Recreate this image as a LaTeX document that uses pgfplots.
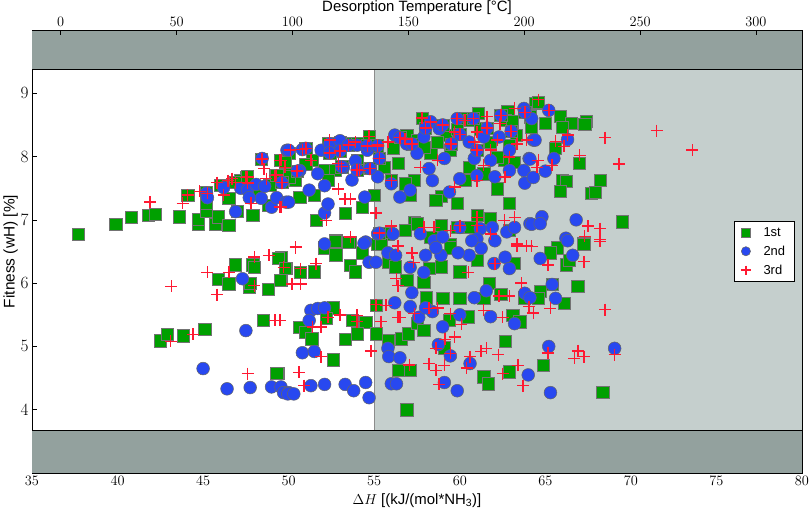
\documentclass[border=0pt]{standalone}
\usepackage{fontspec}
\setmainfont{Liberation Sans}
\usepackage{pgfplots}
\pgfplotsset{compat=1.18}
\definecolor{band}{RGB}{147,161,158}
\definecolor{zone}{RGB}{197,207,205}
\definecolor{sqgreen}{RGB}{0,160,0}
\definecolor{cblue}{RGB}{40,72,240}
\definecolor{xred}{RGB}{255,25,50}
\begin{document}
\begin{tikzpicture}
\useasboundingbox (-32bp,-35bp) rectangle (778bp,473bp);
\begin{axis}[
  at={(0,0)}, anchor=south west,
  scale only axis, width=770bp, height=443bp,
  xmin=35, xmax=80, ymin=3, ymax=10,
  xtick={35,40,...,80}, ytick={4,5,6,7,8,9},
  xtick pos=bottom, ytick pos=both,
  tick align=inside,
  major tick length=5bp,
  every tick/.style={black, line width=0.6bp},
  axis line style={line width=0.8bp},
  xticklabel style={font=\fontsize{14}{16}\selectfont},
  yticklabel style={font=\fontsize{17.5}{20}\selectfont},
  xlabel={$\Delta H$ [(kJ/(mol*NH\textsubscript{3})]},
  ylabel={Fitness (wH) [\%]},
  xlabel style={font=\fontsize{15}{17}\selectfont, yshift=-1bp},
  ylabel style={font=\fontsize{15.5}{18}\selectfont, yshift=-4bp},
  legend style={at={(0.99,0.5)}, anchor=east, draw=black, fill=white,
    font=\fontsize{13}{15}\selectfont, row sep=4bp, inner xsep=7bp, inner ysep=4bp,
    /tikz/every odd column/.append style={column sep=11bp}},
  legend image post style={mark size=4.6bp},
  legend cell align=left,
]
\fill[band] (axis cs:35,9.38) rectangle (axis cs:80,10);
\fill[band] (axis cs:35,3) rectangle (axis cs:80,3.68);
\fill[zone] (axis cs:55,3.68) rectangle (axis cs:80,9.38);
\draw[black!45, line width=0.6bp] (axis cs:55,3.68) -- (axis cs:55,9.38);
\draw[black, line width=0.9bp] (axis cs:35,9.38) -- (axis cs:80,9.38);
\draw[black, line width=0.9bp] (axis cs:35,3.68) -- (axis cs:80,3.68);

\addplot[only marks, mark=square*, mark size=6.1bp, color=sqgreen,
  mark options={fill=sqgreen, draw=black!55, line width=0.5bp}] table {
x y
37.7 6.77
39.9 6.93
40.8 7.04
41.8 7.07
42.2 7.09
43.6 7.05
44.7 6.94
44.7 7.01
45.2 7.13
45.2 7.26
45.7 6.93
45.9 7.05
46.5 6.91
47.0 7.13
47.9 7.07
48.8 7.23
44.1 7.39
45.2 7.43
46.5 7.34
47.5 7.67
48.4 7.96
49.2 7.70
49.5 7.94
49.8 7.88
50.0 8.05
46.0 7.55
47.2 7.62
48.2 7.45
48.9 7.55
52.29 8.21
52.6 8.21
53.0 8.23
53.7 8.21
54.0 8.21
54.7 8.32
55.2 8.18
56.1 8.13
56.9 8.34
57.8 8.61
59.2 8.34
59.85 8.43
60.3 8.60
61.1 8.68
60.55 8.57
62.8 8.72
62.65 8.58
63.05 8.55
63.3 8.34
62.9 8.18
62.6 7.94
63.2 7.91
62.2 7.49
62.9 7.26
59.85 7.26
58.9 7.37
58.6 7.31
60.3 7.62
60.55 7.83
61.4 7.73
58.3 8.05
59.45 8.10
57.35 7.62
56.0 7.62
55.0 7.39
54.3 7.20
53.3 7.10
51.6 6.99
51.4 7.94
51.0 7.88
52.1 7.78
52.7 7.78
50.65 7.36
50.4 7.62
49.8 7.91
50.0 7.68
52.3 7.62
51.5 7.39
54.0 7.94
55.6 7.83
56.4 7.89
57.5 8.26
57.9 8.15
58.7 8.23
61.2 8.44
64.1 8.63
64.4 8.84
61.8 8.23
62.2 7.99
57.1 7.39
56.8 7.57
64.57 8.86
65.85 8.64
66.5 8.53
67.4 8.56
67.3 8.51
65.0 8.53
66.0 8.46
64.2 8.46
65.6 8.13
67.0 7.89
66.0 7.62
66.2 7.61
68.2 7.62
65.85 7.45
67.7 7.42
67.9 7.43
69.5 6.97
67.25 6.63
65.7 6.56
57.35 6.96
57.5 6.94
58.9 6.91
59.85 6.88
61.0 7.07
61.8 7.02
56.8 6.83
55.8 6.78
55.2 6.62
53.6 6.65
52.75 6.67
58.3 6.73
59.45 6.62
62.9 6.83
60.6 6.88
49.55 6.41
49.85 6.23
50.7 6.17
51.5 6.18
49.55 6.04
52.1 6.56
52.75 6.45
52.7 6.66
53.5 6.64
53.6 6.28
53.9 6.18
54.3 6.48
55.4 6.61
55.8 6.33
56.25 6.26
56.9 6.04
57.9 6.01
58.2 6.23
58.9 6.26
59.45 6.56
60.0 6.18
61.0 6.36
61.7 6.00
63.2 6.31
52.6 5.61
52.2 5.44
53.7 5.41
54.5 5.38
54.0 5.20
53.3 5.11
55.1 5.65
55.1 5.20
50.6 5.30
50.95 5.22
51.35 5.12
55.8 5.09
56.6 5.12
57.0 5.20
57.5 5.36
57.9 5.25
58.05 5.77
59.0 5.76
60.0 5.76
60.5 5.47
59.4 5.41
61.4 5.76
63.1 5.49
63.5 5.39
62.4 5.82
62.65 5.08
59.1 4.98
52.6 4.79
49.4 4.57
56.4 4.62
57.1 4.62
61.4 4.52
61.65 4.41
62.9 4.60
56.9 4.00
63.75 5.77
46.9 6.29
45.9 6.06
46.5 5.99
47.7 5.93
47.75 6.00
47.9 6.29
48.0 6.25
48.8 5.90
49.5 6.04
49.4 6.39
49.8 6.23
48.5 5.41
49.3 4.57
42.5 5.09
42.9 5.19
43.85 5.17
45.1 5.27
65.3 6.48
67.25 6.61
66.2 6.29
66.4 6.36
66.9 5.95
65.4 5.98
64.7 5.87
64.6 5.76
66.1 5.68
64.9 4.70
68.35 4.28
51.0 8.13
50.5 7.77
49.6 7.59
53.0 8.09
53.5 8.18
52.4 8.06
53.1 7.84
54.0 7.79
54.75 7.81
55.3 7.97
54.6 8.17
55.2 8.17
55.3 6.79
47.6 7.68
46.9 7.59
49.3 7.71
56.5 8.30
57.2 8.20
58.0 8.45
59.0 8.50
60.0 8.35
60.8 8.60
61.6 8.45
62.4 8.65
63.0 8.40
63.8 8.70
61.0 8.10
59.5 8.20
};
\addlegendentry{1st}

\addplot[only marks, mark=*, mark size=6.4bp, color=cblue,
  mark options={fill=cblue, draw=black!60, line width=0.5bp}] table {
x y
45.2 7.42
45.25 7.35
46.2 7.51
47.2 7.50
47.6 7.47
48.1 7.56
48.6 7.53
48.4 7.34
46.9 7.13
49.0 7.20
49.3 7.35
49.85 7.28
48.45 7.97
49.9 8.10
47.7 7.35
50.0 8.10
50.8 8.11
51.9 8.10
52.4 8.20
53.0 8.25
54.0 8.18
54.6 8.10
56.2 8.34
56.9 8.20
57.9 8.31
58.3 8.55
58.8 8.44
59.85 8.60
60.55 8.23
61.4 8.31
62.3 8.31
62.9 8.10
63.75 8.76
64.2 8.60
64.3 8.26
64.05 7.97
63.75 7.78
63.8 7.58
62.9 7.78
61.8 7.94
61.0 7.70
60.0 7.65
59.4 7.44
58.2 7.81
58.4 7.62
57.1 7.47
56.5 7.36
56.0 7.57
55.2 7.68
54.45 7.36
53.7 7.63
52.1 7.54
51.2 7.47
50.0 7.28
53.2 7.83
53.9 7.93
51.7 7.73
50.65 7.78
57.5 8.05
59.1 7.97
60.85 7.97
62.05 7.68
52.1 7.11
52.3 7.25
55.2 6.78
56.1 6.78
57.7 6.78
58.5 6.67
59.0 6.73
60.0 6.88
61.2 6.86
61.9 6.88
62.75 6.81
63.2 6.88
64.1 6.94
52.1 6.62
54.5 6.65
61.0 6.70
65.2 8.73
64.4 8.26
66.3 8.27
64.1 7.96
65.5 7.97
65.0 7.77
64.3 7.67
64.8 7.05
66.8 7.00
64.2 6.93
64.7 6.94
66.2 6.71
47.3 6.07
47.5 5.25
45.0 4.65
46.4 4.33
47.75 4.35
49.0 4.36
49.55 4.36
49.7 4.27
50.0 4.27
51.3 5.57
51.7 5.60
52.1 5.61
51.2 5.41
50.8 4.90
51.5 4.92
55.8 4.97
55.85 4.84
56.5 4.82
49.95 4.25
50.3 4.25
51.3 4.38
52.1 4.40
53.3 4.40
53.8 4.30
54.5 4.43
54.7 4.19
56.0 4.41
56.3 4.41
59.1 4.43
59.85 4.30
64.0 4.55
58.75 5.03
59.45 4.85
60.6 4.73
56.2 5.69
57.1 5.63
57.6 5.46
58.4 5.55
59.0 5.31
60.0 5.50
61.8 5.47
60.85 5.77
61.55 5.88
57.2 5.85
58.0 5.61
63.8 5.84
64.1 5.77
63.2 5.36
62.0 6.31
62.65 6.41
62.9 6.23
58.9 6.44
57.9 6.17
57.1 6.25
54.7 6.33
55.1 6.33
55.8 6.48
56.25 6.44
58.0 6.44
60.55 6.44
59.9 6.48
61.25 6.55
54.4 6.63
58.6 6.56
60.7 6.67
62.05 6.67
64.7 6.39
66.6 6.44
66.3 6.67
65.4 5.98
65.6 5.76
65.2 5.00
69.05 4.97
65.3 4.27
51.0 8.13
50.5 7.77
49.6 7.59
53.0 8.09
53.5 8.18
52.4 8.06
53.1 7.84
54.0 7.79
54.75 7.81
55.3 7.97
54.6 8.17
55.2 8.17
55.3 6.79
56.5 8.30
57.2 8.20
58.0 8.45
59.0 8.50
60.0 8.35
60.8 8.60
61.6 8.45
62.4 8.65
63.0 8.40
63.8 8.70
61.0 8.10
59.5 8.20
};
\addlegendentry{2nd}

\addplot[only marks, mark=+, mark size=6bp, color=xred,
  mark options={draw=xred, line width=1.5bp}] table {
x y
41.9 7.28
43.8 7.26
44.8 7.45
44.1 7.39
45.25 7.42
45.8 7.59
46.45 7.62
46.7 7.65
46.2 7.39
47.5 7.67
47.6 7.58
47.8 7.26
48.45 7.96
48.55 7.81
48.7 7.65
49.2 7.70
49.5 7.94
49.5 7.20
49.8 7.83
52.4 8.26
53.9 8.23
54.7 8.32
55.2 8.18
56.0 7.62
52.9 7.49
57.8 8.61
58.3 8.55
59.85 8.60
60.3 8.57
61.0 8.39
61.6 8.63
62.35 8.52
63.2 8.76
63.35 8.20
62.9 7.99
61.4 7.86
62.65 7.68
59.7 7.52
57.7 7.83
58.7 7.94
52.9 7.89
51.3 7.94
50.1 8.10
49.55 7.94
50.8 8.11
53.3 7.33
49.55 7.20
54.15 7.78
55.8 8.23
56.8 8.28
59.7 8.39
60.85 8.23
61.8 8.10
62.2 8.26
63.9 8.26
61.0 7.62
55.1 7.11
56.0 6.90
57.9 6.88
58.5 6.88
59.45 6.83
60.0 6.91
61.0 6.91
61.8 6.78
62.6 6.99
63.2 7.04
63.35 6.62
63.9 6.59
61.0 7.04
50.4 6.57
53.6 6.73
52.2 6.99
53.6 7.33
64.6 8.90
65.2 8.73
68.5 8.30
71.5 8.41
73.6 8.10
69.3 7.88
67.0 8.02
66.3 8.34
65.6 8.24
66.1 8.16
64.6 7.94
65.4 7.86
64.5 7.83
67.5 6.90
68.2 6.86
67.3 6.74
68.2 6.69
64.2 6.58
43.15 5.95
45.25 6.17
45.8 5.82
46.5 6.17
48.0 6.41
48.85 6.44
49.7 6.25
48.0 5.96
49.2 5.41
43.1 5.08
44.4 5.19
47.6 4.57
50.4 6.56
51.6 6.31
50.7 6.23
50.2 5.99
50.7 5.99
49.5 5.41
51.4 5.31
51.9 5.31
52.3 5.46
53.0 5.50
54.0 5.49
54.0 5.39
54.8 4.93
51.9 4.84
50.6 4.59
50.9 4.38
55.4 5.39
55.7 5.65
56.4 5.46
57.35 5.52
58.2 5.60
58.7 5.61
59.45 5.52
60.1 5.35
59.7 5.15
59.15 5.11
58.6 4.97
59.45 4.89
60.6 4.84
61.25 4.92
61.55 4.97
62.25 4.87
58.2 4.73
58.6 4.62
59.1 4.70
60.4 4.66
58.8 4.40
57.05 4.71
63.4 4.70
62.5 4.57
63.7 4.38
62.5 5.46
63.6 6.00
64.05 5.63
64.3 5.53
63.35 6.59
63.9 6.58
62.05 6.31
60.5 6.17
57.3 6.33
57.2 6.48
56.4 6.59
56.3 6.07
56.4 5.96
62.3 5.80
62.9 5.80
61.4 5.57
55.1 5.66
56.5 5.46
65.15 6.29
67.25 6.34
68.2 6.66
65.3 5.60
68.5 5.58
65.15 4.90
66.9 4.93
66.7 4.81
67.25 4.84
69.05 4.87
51.0 8.13
50.5 7.77
49.6 7.59
53.0 8.09
53.5 8.18
52.4 8.06
53.1 7.84
54.0 7.79
54.75 7.81
55.3 7.97
54.6 8.17
55.2 8.17
55.3 6.79
47.6 7.68
46.9 7.59
49.3 7.71
56.5 8.30
57.2 8.20
58.0 8.45
59.0 8.50
60.0 8.35
60.8 8.60
61.6 8.45
62.4 8.65
63.0 8.40
63.8 8.70
61.0 8.10
59.5 8.20
};
\addlegendentry{3rd}
\end{axis}
\begin{axis}[
  at={(0,0)}, anchor=south west,
  scale only axis, width=770bp, height=443bp,
  xmin=-12.4, xmax=319.9, ymin=3, ymax=10,
  axis x line*=top, axis y line=none,
  xtick={0,50,...,300},
  tick align=inside,
  major tick length=5bp,
  every tick/.style={black, line width=0.6bp},
  axis line style={line width=0.8bp},
  xticklabel style={font=\fontsize{14}{16}\selectfont},
  xlabel={Desorption Temperature [°C]},
  xlabel style={font=\fontsize{15}{17}\selectfont, yshift=-4bp},
]
\end{axis}
\end{tikzpicture}
\end{document}
